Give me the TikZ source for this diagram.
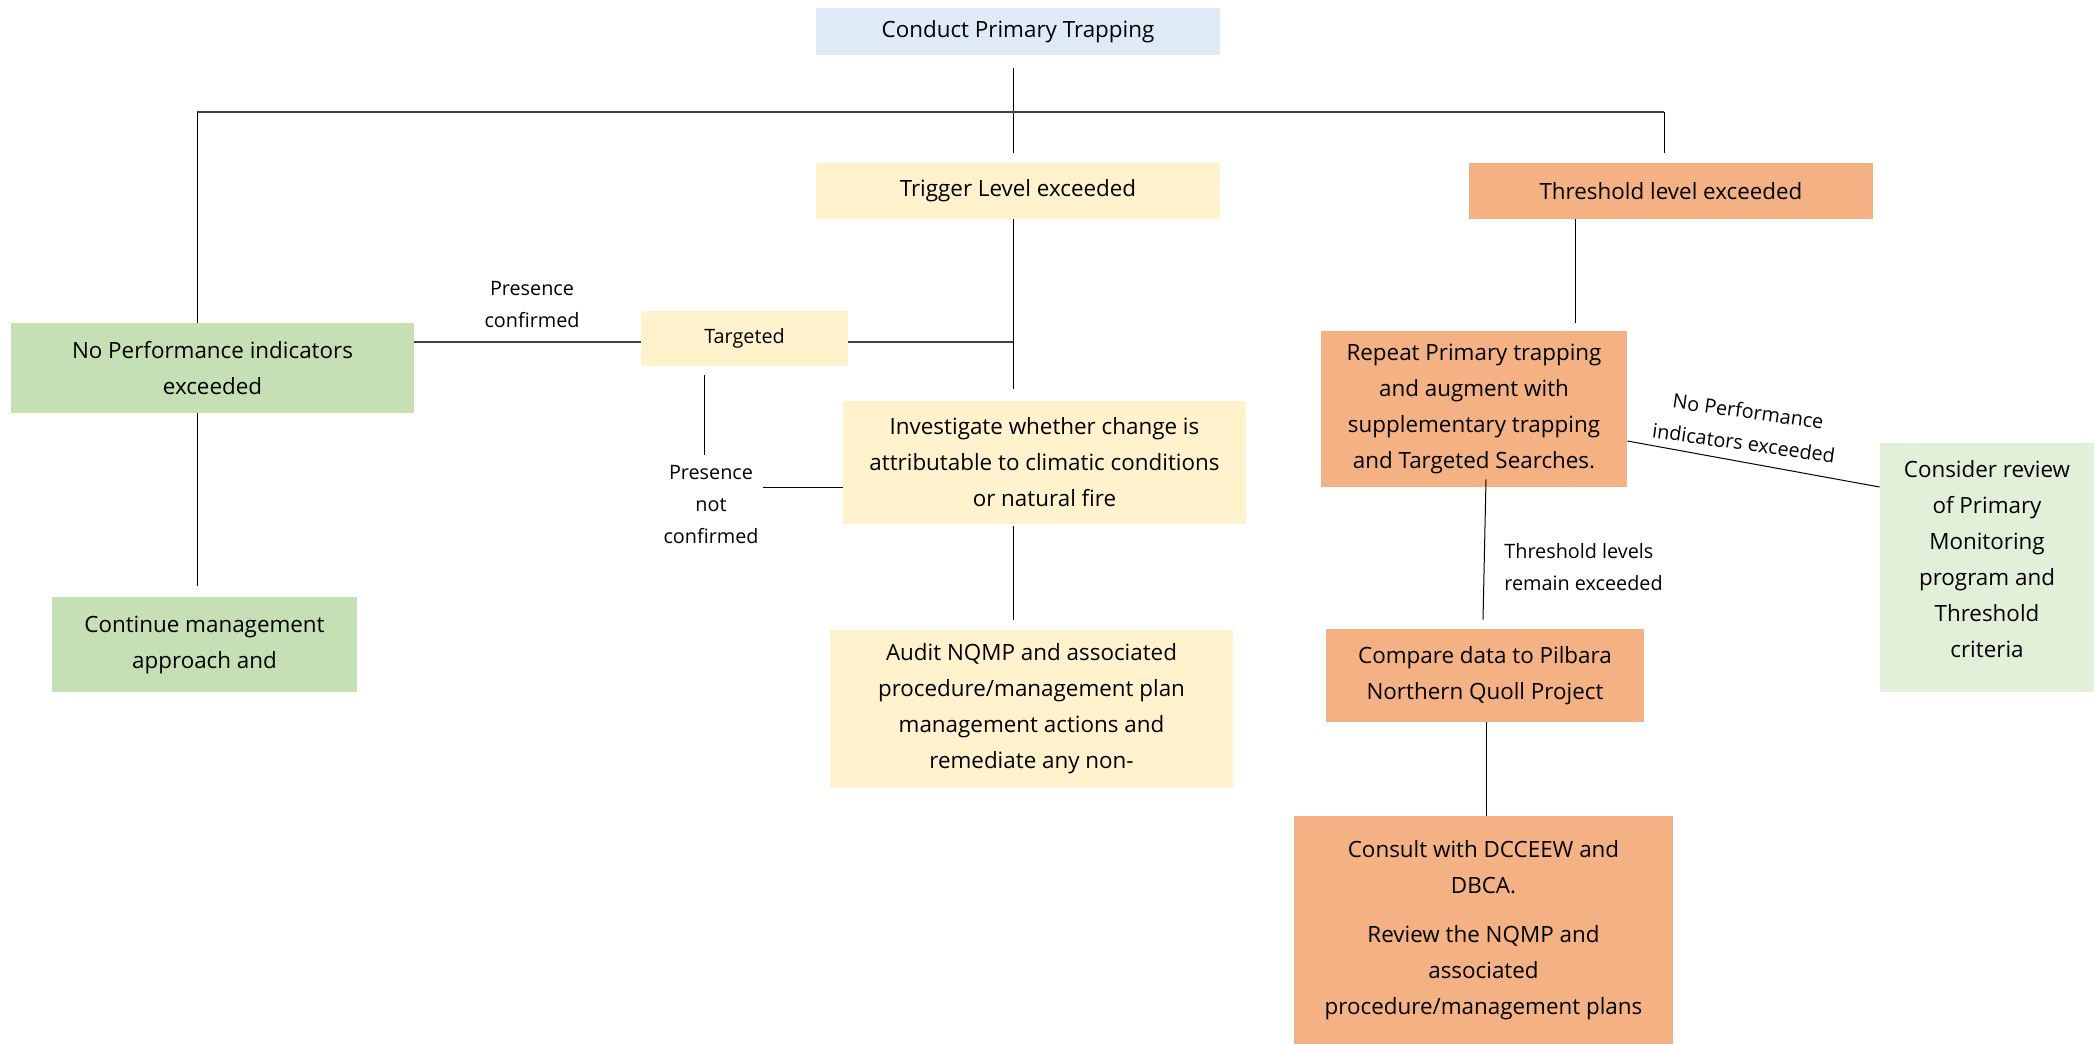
\documentclass[tikz,border=0pt]{standalone}
\usepackage{fontspec}
\setmainfont{Open Sans}
\usetikzlibrary{calc}
\definecolor{cblue}{HTML}{DEEBF7}
\definecolor{cyel}{HTML}{FFF2CC}
\definecolor{corg}{HTML}{F4B183}
\definecolor{cgrn}{HTML}{C5E0B4}
\definecolor{clgrn}{HTML}{E2F0D9}
\definecolor{cline}{HTML}{404040}
\begin{document}
\begin{tikzpicture}[x=0.5pt,y=-0.5pt,
  box/.style={draw=none, inner sep=0pt, align=center, font=\fontsize{11.2}{18}\selectfont},
  lbl/.style={inner sep=0pt, align=center, font=\fontsize{9.9}{16}\selectfont},
  ln/.style={draw=black, line width=0.5pt},
  thk/.style={draw=cline, line width=1pt}]
\useasboundingbox (0,0) rectangle (2098,1044);
% boxes
\node[box, fill=cblue, minimum width=202pt, minimum height=23.5pt] (conduct) at (1018,31.5) {Conduct Primary Trapping};
\node[box, fill=cyel, minimum width=202pt, minimum height=28pt] (trigger) at (1018,191) {Trigger Level exceeded};
\node[box, fill=corg, minimum width=202pt, minimum height=28pt] (threshold) at (1671,191) {Threshold level exceeded};
\node[box, fill=cyel, minimum width=103.5pt, minimum height=27.5pt, font=\fontsize{9.9}{16}\selectfont] (targeted) at (744.5,338.5) {Targeted};
\node[box, fill=cgrn, minimum width=201.5pt, minimum height=45pt] (nopi) at (212.5,368) {No Performance indicators\\exceeded};
\node[box, fill=cyel, minimum width=201.5pt, minimum height=61.5pt] (investigate) at (1044.5,462.5) {Investigate whether change is\\attributable to climatic conditions\\or natural fire};
\node[box, fill=cyel, minimum width=201.5pt, minimum height=79pt] (audit) at (1031.5,709) {Audit NQMP and associated\\procedure/management plan\\management actions and\\remediate any non-};
\node[box, fill=cgrn, minimum width=152.5pt, minimum height=47.5pt] (cont) at (204.5,644.5) {Continue management\\approach and};
\node[box, fill=corg, minimum width=153pt, minimum height=78pt] (repeat) at (1474,409) {Repeat Primary trapping\\and augment with\\supplementary trapping\\and Targeted Searches.};
\node[box, fill=clgrn, minimum width=107pt, minimum height=124.5pt] (consider) at (1987,567.5) {};
\node[box] (considertext) at ($(consider.center)+(0,-8)$) {Consider review\\of Primary\\Monitoring\\program and\\Threshold\\criteria};
\node[box, fill=corg, minimum width=159pt, minimum height=46.5pt] (compare) at (1485,675.5) {Compare data to Pilbara\\Northern Quoll Project};
\node[box, fill=corg, minimum width=189.5pt, minimum height=114pt] (consult) at (1483.5,930) {Consult with DCCEEW and\\DBCA.\\[6.5pt]Review the NQMP and\\associated\\procedure/management plans};
% labels
\node[lbl] (pc) at (532,305) {Presence\\confirmed};
\node[lbl] (pnc) at (711,505) {Presence\\not\\confirmed};
\node[lbl, anchor=west, align=left] (tle) at (1504,567) {Threshold levels\\remain exceeded};
\node[lbl, rotate=-8] (npi2) at (1746,427) {No Performance\\indicators exceeded};
% junctions
\coordinate (jt) at (1013,112);
\coordinate (jl) at (197,112);
\coordinate (jr) at (1664,112);
% connectors
\draw[ln, shorten <=6.5pt, shorten >=5pt] (conduct.south -| jt) -- (trigger.north -| jt);
\draw[thk] (jl) -- (jr);
\draw[ln] (jl) -- (jl |- nopi.north);
\draw[ln, shorten >=5pt] (jr) -- (jr |- threshold.north);
\draw[ln, shorten >=6pt] (trigger.south -| jt) -- (investigate.north -| jt);
\draw[thk] ($(targeted.east)+(0,3.5)$) -- ($(targeted.east -| jt)+(0,3.5)$);
\draw[thk] ($(targeted.west)+(0,3.5)$) -- ($(targeted.west -| nopi.east)+(0,3.5)$);
\coordinate (tb) at ($(targeted.south)+(-40.5,0)$);
\draw[ln, shorten <=4.5pt, shorten >=5pt] (tb) -- (tb |- pnc.north);
\coordinate (pl) at ($(pnc.east)+(4,-18)$);
\draw[ln] (pl) -- (pl -| investigate.west);
\draw[ln, shorten <=1pt, shorten >=5pt] (investigate.south -| jt) -- (audit.north -| jt);
\draw[ln, shorten >=5.5pt] (jl |- nopi.south) -- (jl |- cont.north);
\coordinate (tt) at ($(threshold.south)+(-96,0)$);
\draw[ln, shorten >=4pt] (tt) -- (tt |- repeat.north);
\draw[ln] ($(repeat.east)+(0,32)$) -- ($(consider.west)+(0,-80.5)$);
\draw[ln] ($(repeat.south)+(12,-8)$) -- ($(compare.north)+(-2,-9)$);
\draw[ln] ($(compare.south)+(1,0)$) -- ($(consult.north)+(2.5,0)$);
\end{tikzpicture}
\end{document}
